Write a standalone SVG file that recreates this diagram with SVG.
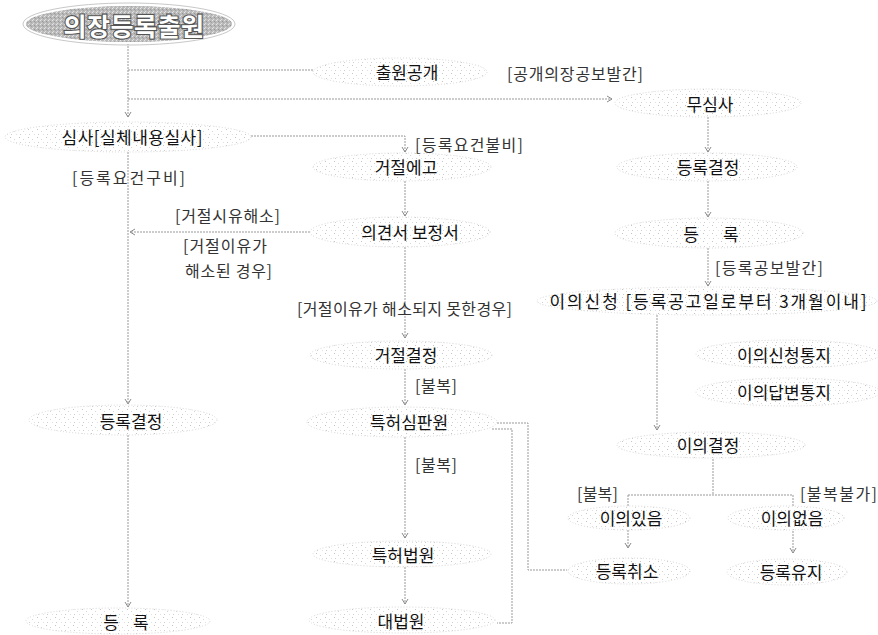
<svg xmlns="http://www.w3.org/2000/svg" width="878" height="635" viewBox="0 0 878 635">
<defs>
<pattern id="stip" width="9" height="8" patternUnits="userSpaceOnUse">
<rect x="1" y="1" width="1" height="1" fill="#c4c4c4"/>
<rect x="5" y="3" width="1" height="1" fill="#d6d6d6"/>
<rect x="2" y="6" width="1" height="1" fill="#cdcdcd"/>
<rect x="7" y="6" width="1" height="1" fill="#e0e0e0"/>
</pattern>
<pattern id="stipdark" width="4" height="4" patternUnits="userSpaceOnUse">
<rect width="4" height="4" fill="#bababa"/>
<rect x="0" y="0" width="1" height="1" fill="#e6e6e6"/>
<rect x="2" y="1" width="1" height="1" fill="#979797"/>
<rect x="1" y="3" width="1" height="1" fill="#dedede"/>
<rect x="3" y="2" width="1" height="1" fill="#a3a3a3"/>
</pattern>
<marker id="arr" markerWidth="8" markerHeight="8" refX="6" refY="4" orient="auto" markerUnits="userSpaceOnUse">
<path d="M1,1 L6,4 L1,7" fill="none" stroke="#8a8a8a" stroke-width="1"/>
</marker>
</defs>
<style>
.nd ellipse{fill:url(#stip);stroke:#d6d6d6;stroke-width:1;stroke-dasharray:1 2}
.nd text{font-family:"Noto Sans CJK KR","Noto Sans",sans-serif;font-size:17px;fill:#111;text-anchor:middle;dominant-baseline:central}
.lb{font-family:"Noto Sans CJK KR","Noto Sans",sans-serif;font-size:16px;fill:#333;dominant-baseline:central}
.cn path{fill:none;stroke:#999;stroke-width:1;stroke-dasharray:2 1}
.cn .a{marker-end:url(#arr)}
</style>
<rect width="878" height="635" fill="#fff"/>

<g class="cn" id="connectors">
<path d="M128,43 V117" class="a"/>
<path d="M128,70 H313"/>
<path d="M128,99 H612" class="a"/>
<path d="M708,117 V152" class="a"/>
<path d="M708,181 V217" class="a"/>
<path d="M708,248 V286" class="a"/>
<path d="M657,315 V430" class="a"/>
<path d="M713,459 V495 M628,495 H793 M628,495 V506 M793,495 V506"/>
<path d="M628,530 V548" class="a"/>
<path d="M793,531 V553" class="a"/>
<path d="M251,136 H405 V152" class="a"/>
<path d="M405,181 V216" class="a"/>
<path d="M310,232 H130" class="a"/>
<path d="M405,247 V338" class="a"/>
<path d="M405,369 V405" class="a"/>
<path d="M405,437 V538" class="a"/>
<path d="M405,567 V604" class="a"/>
<path d="M128,152 V404" class="a"/>
<path d="M128,435 V607" class="a"/>
<path d="M497,423 H528 V570 H567"/>
<path d="M492,429 H512 V623 H497"/>
</g>

<g id="n-title">
<ellipse cx="129" cy="24" rx="104" ry="19" fill="url(#stipdark)" stroke="#fff" stroke-width="2"/>
<ellipse cx="129" cy="24" rx="106" ry="21" fill="none" stroke="#c8c8c8" stroke-width="1"/>
<text x="134" y="25" font-family="'Noto Sans CJK KR',sans-serif" font-size="25" font-weight="bold" fill="#fff" stroke="#555" stroke-width="2.2" paint-order="stroke" text-anchor="middle" dominant-baseline="central" letter-spacing="0.5">의장등록출원</text>
</g>

<g class="nd" id="n-chulwon"><ellipse cx="400" cy="72" rx="87" ry="14"/><text x="407" y="71">출원공개</text></g>
<g class="nd" id="n-musimsa"><ellipse cx="708" cy="103" rx="93" ry="14"/><text x="710" y="103">무심사</text></g>
<g class="nd" id="n-decision-r"><ellipse cx="707" cy="167" rx="90" ry="14"/><text x="708" y="166">등록결정</text></g>
<g class="nd" id="n-reg-r"><ellipse cx="709" cy="233" rx="94" ry="15"/><text x="711" y="233">등<tspan dx="24">록</tspan></text></g>
<g class="nd" id="n-objection"><ellipse cx="707" cy="301" rx="170" ry="14"/><text x="708" y="300" textLength="317" lengthAdjust="spacing">이의신청 [등록공고일로부터 3개월이내]</text></g>
<g class="nd" id="n-notice1"><ellipse cx="788" cy="354" rx="92" ry="14"/><text x="784" y="354">이의신청통지</text></g>
<g class="nd" id="n-notice2"><ellipse cx="788" cy="392" rx="92" ry="14"/><text x="784" y="391">이의답변통지</text></g>
<g class="nd" id="n-objdecision"><ellipse cx="711" cy="445" rx="94" ry="13"/><text x="708" y="444">이의결정</text></g>
<g class="nd" id="n-yes"><ellipse cx="629" cy="518" rx="61" ry="12"/><text x="631" y="517">이의있음</text></g>
<g class="nd" id="n-no"><ellipse cx="786" cy="518" rx="58" ry="12"/><text x="792" y="517">이의없음</text></g>
<g class="nd" id="n-cancel"><ellipse cx="629" cy="571" rx="61" ry="13"/><text x="627" y="570">등록취소</text></g>
<g class="nd" id="n-keep"><ellipse cx="787" cy="572" rx="60" ry="13"/><text x="791" y="571">등록유지</text></g>

<g class="nd" id="n-exam"><ellipse cx="128" cy="137" rx="123" ry="15"/><text x="132" y="136" textLength="141" lengthAdjust="spacing">심사[실체내용실사]</text></g>
<g class="nd" id="n-reject-notice"><ellipse cx="402" cy="167" rx="89" ry="14"/><text x="406" y="166">거절에고</text></g>
<g class="nd" id="n-opinion"><ellipse cx="400" cy="232" rx="90" ry="15"/><text x="410" y="231">의견서 보정서</text></g>
<g class="nd" id="n-reject"><ellipse cx="401" cy="355" rx="91" ry="14"/><text x="406" y="354">거절결정</text></g>
<g class="nd" id="n-trial"><ellipse cx="402" cy="422" rx="95" ry="15"/><text x="409" y="421">특허심판원</text></g>
<g class="nd" id="n-patentcourt"><ellipse cx="402" cy="554" rx="89" ry="13"/><text x="403" y="554">특허법원</text></g>
<g class="nd" id="n-supreme"><ellipse cx="402" cy="620" rx="93" ry="13"/><text x="401" y="620">대법원</text></g>
<g class="nd" id="n-decision-l"><ellipse cx="123" cy="420" rx="94" ry="15"/><text x="131" y="420">등록결정</text></g>
<g class="nd" id="n-reg-l"><ellipse cx="118" cy="621" rx="92" ry="13"/><text x="126" y="621">등<tspan dx="14">록</tspan></text></g>

<g id="labels">
<text class="lb" x="507" y="73" textLength="136" lengthAdjust="spacing">[공개의장공보발간]</text>
<text class="lb" x="415" y="144" textLength="108" lengthAdjust="spacing">[등록요건불비]</text>
<text class="lb" x="72" y="177" textLength="113" lengthAdjust="spacing">[등록요건구비]</text>
<text class="lb" x="175" y="215" textLength="105" lengthAdjust="spacing">[거절시유해소]</text>
<text class="lb" x="183" y="245" textLength="84" lengthAdjust="spacing">[거절이유가</text>
<text class="lb" x="185" y="270" textLength="87" lengthAdjust="spacing">해소된 경우]</text>
<text class="lb" x="297" y="308" textLength="215" lengthAdjust="spacing">[거절이유가 해소되지 못한경우]</text>
<text class="lb" x="415" y="385" textLength="42" lengthAdjust="spacing">[불복]</text>
<text class="lb" x="415" y="464" textLength="42" lengthAdjust="spacing">[불복]</text>
<text class="lb" x="715" y="267" textLength="108" lengthAdjust="spacing">[등록공보발간]</text>
<text class="lb" x="577" y="493" textLength="41" lengthAdjust="spacing">[불복]</text>
<text class="lb" x="800" y="493" textLength="77" lengthAdjust="spacing">[불복불가]</text>
</g>
</svg>
